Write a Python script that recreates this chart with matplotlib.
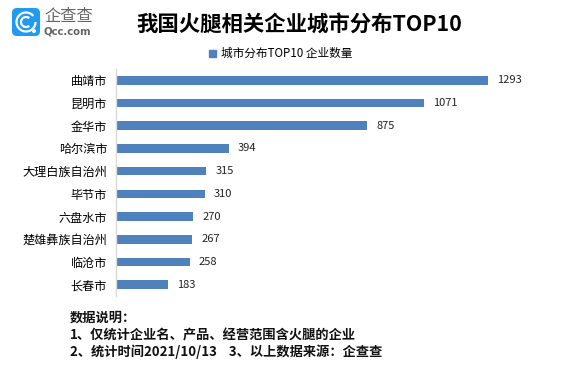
import matplotlib
matplotlib.use('Agg')
import matplotlib.pyplot as plt
from matplotlib.patches import FancyBboxPatch, Circle, Arc, Rectangle

plt.rcParams['font.family'] = ['Noto Sans CJK SC', 'DejaVu Sans']

cities = ['曲靖市', '昆明市', '金华市', '哈尔滨市', '大理白族自治州', '毕节市',
          '六盘水市', '楚雄彝族自治州', '临沧市', '长春市']
counts = [1293, 1071, 875, 394, 315, 310, 270, 267, 258, 183]
series_name = '城市分布TOP10 企业数量'
title = '我国火腿相关企业城市分布TOP10'
notes = ['数据说明\uff1a', '1、仅统计企业名、产品、经营范围含火腿的企业',
         '2、统计时间2021/10/13    3、以上数据来源\uff1a企查查']

W, H = 562, 371
fig = plt.figure(figsize=(W / 100, H / 100), dpi=100)

# axes placed in pixels
ax = fig.add_axes([115.5 / W, 1 - 296 / H, 403 / W, 227 / H])
pos = list(range(len(cities)))
ax.barh(pos, counts, height=0.38, color='#4F81BD')
ax.set_ylim(len(cities) - 0.5, -0.5)
ax.set_xlim(0, 1400)
ax.set_yticks(pos)
ax.set_yticklabels(cities, fontsize=8.7, color='black')
ax.tick_params(axis='y', length=0, pad=6)
ax.xaxis.set_visible(False)
for s in ['top', 'right', 'bottom']:
    ax.spines[s].set_visible(False)
ax.spines['left'].set_color('#D9D9D9')
ax.spines['left'].set_linewidth(1)
for p, c in zip(pos, counts):
    ax.annotate(str(c), (c, p), xytext=(9, 0), textcoords='offset pixels',
                va='center', ha='left', fontsize=8, color='#222222')


def px(x, y):
    return x / W, 1 - y / H


fig.text(*px(299, 24), title, fontsize=15.4, fontweight='bold', ha='center', va='center', color='black')

# legend
fig.patches.append(Rectangle(px(209, 57), 7 / W, 7 / H, transform=fig.transFigure, color='#4F81BD'))
fig.text(*px(221, 53), series_name, fontsize=8.4, ha='left', va='center', color='black')

# footnote
for y, line in zip([318, 335, 352], notes):
    fig.text(*px(70, y), line, fontsize=9.5, fontweight='bold', ha='left', va='center', color='#111111')

# logo
logo = fig.add_axes([0, 1 - 40 / H, 100 / W, 40 / H])
logo.set_xlim(0, 100)
logo.set_ylim(40, 0)
logo.axis('off')
logo.add_patch(FancyBboxPatch((13, 9), 26, 26, boxstyle='round,pad=0,rounding_size=4',
                              mutation_aspect=1, fc='#1F9BF0', ec='#1F9BF0', lw=1.5))
logo.add_patch(Arc((26, 22), 19, 19, theta1=0, theta2=320, ec='white', lw=1.6))
logo.add_patch(Arc((26, 22), 10, 10, theta1=50, theta2=310, ec='white', lw=1.6))
logo.add_patch(Circle((34, 31), 1.3, fc='white', ec='white'))
logo.text(44, 16.5, '企查查', fontsize=11.7, color='#666666', ha='left', va='center')
logo.text(44, 31, 'Qcc.com', fontsize=7.3, color='#666666', ha='left', va='center', fontweight='bold', family='DejaVu Sans')

fig.savefig('out.png', dpi=100)
